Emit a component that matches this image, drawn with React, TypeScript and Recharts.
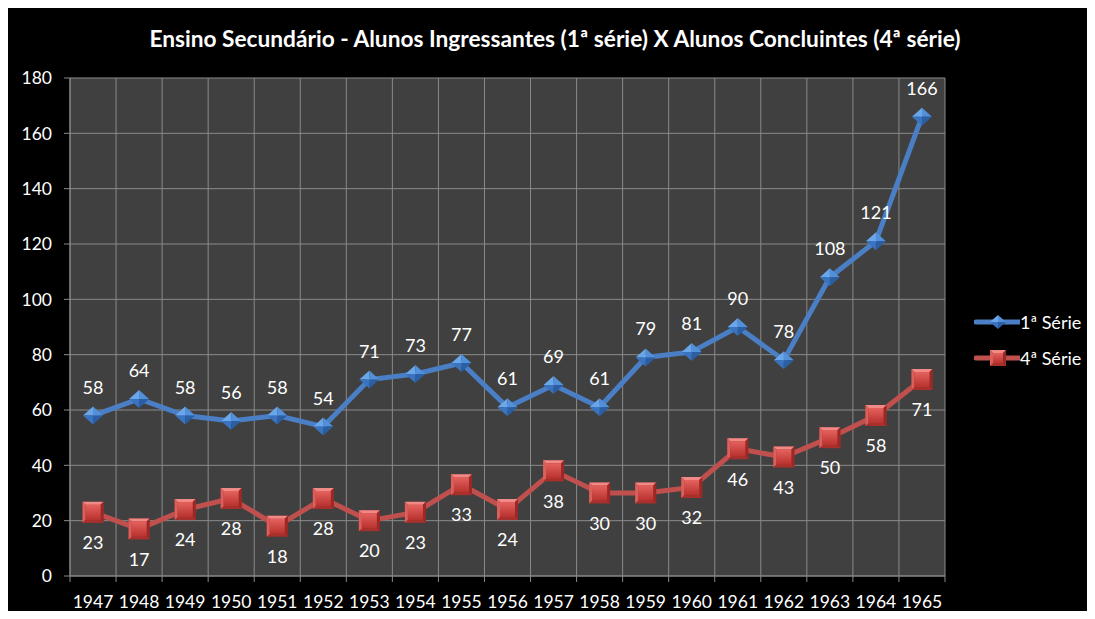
import React from 'react';
import { LineChart, Line, XAxis, YAxis, CartesianGrid, Legend, LabelList } from 'recharts';

const years = ['1947', '1948', '1949', '1950', '1951', '1952', '1953', '1954', '1955', '1956', '1957', '1958', '1959', '1960', '1961', '1962', '1963', '1964', '1965'];
const serie1 = [58, 64, 58, 56, 58, 54, 71, 73, 77, 61, 69, 61, 79, 81, 90, 78, 108, 121, 166];
const serie4 = [23, 17, 24, 28, 18, 28, 20, 23, 33, 24, 38, 30, 30, 32, 46, 43, 50, 58, 71];
const yTicks = [0, 20, 40, 60, 80, 100, 120, 140, 160, 180];
const title = 'Ensino Secundário - Alunos Ingressantes (1ª série) X Alunos Concluintes (4ª série)';
const name1 = '1ª Série';
const name4 = '4ª Série';

const data = years.map((y, i) => ({ year: y, s1: serie1[i], s4: serie4[i] }));

const FONT = 'Lato, "Open Sans", sans-serif';
const FS = 17.5;
const LFS = 18;
const BLUE = '#4A7FC6';
const RED = '#C0504D';
const GRID = '#8a8a8a';

const Diamond = ({ cx, cy, w = 10, h = 9 }: any) => {
  if (cx == null || cy == null) return null;
  return (
    <g>
      <polygon points={`${cx - w},${cy} ${cx},${cy - h} ${cx},${cy}`} fill="#6AA6EA" />
      <polygon points={`${cx},${cy - h} ${cx + w},${cy} ${cx},${cy}`} fill="#5290DA" />
      <polygon points={`${cx - w},${cy} ${cx},${cy + h} ${cx},${cy}`} fill="#3A74C0" />
      <polygon points={`${cx + w},${cy} ${cx},${cy + h} ${cx},${cy}`} fill="#2B5EA3" />
    </g>
  );
};

const Square = ({ cx, cy, s = 10.5 }: any) => {
  if (cx == null || cy == null) return null;
  const i = 3;
  return (
    <g>
      <rect x={cx - s} y={cy - s} width={2 * s} height={2 * s} fill="#A8302C" />
      <polygon points={`${cx - s},${cy - s} ${cx + s},${cy - s} ${cx + s - i},${cy - s + i} ${cx - s + i},${cy - s + i}`} fill="#F08A86" />
      <polygon points={`${cx - s},${cy - s} ${cx - s + i},${cy - s + i} ${cx - s + i},${cy + s - i} ${cx - s},${cy + s}`} fill="#D9605C" />
      <polygon points={`${cx + s},${cy - s} ${cx + s},${cy + s} ${cx + s - i},${cy + s - i} ${cx + s - i},${cy - s + i}`} fill="#9A2825" />
      <rect x={cx - s + i} y={cy - s + i} width={2 * (s - i)} height={2 * (s - i)} fill="url(#sqGrad)" />
    </g>
  );
};

const XTick = (props: any) => {
  const { x, y, payload, index, visibleTicksCount } = props;
  const half = payload && typeof payload.offset === 'number' && payload.offset > 0 ? payload.offset : 23;
  const axisY = y - 20;
  const last = index === (visibleTicksCount ?? years.length) - 1;
  return (
    <g>
      <line x1={x - half} x2={x - half} y1={axisY} y2={axisY + 6} stroke={GRID} />
      {last && <line x1={x + half} x2={x + half} y1={axisY} y2={axisY + 6} stroke={GRID} />}
      <text x={x} y={y} dy="0.71em" textAnchor="middle" fill="#fff" fontSize={FS} fontFamily={FONT}>
        {payload.value}
      </text>
    </g>
  );
};

const renderLegend = () => (
  <div style={{ fontFamily: FONT, color: '#fff', fontSize: LFS, whiteSpace: 'nowrap' }}>
    <div style={{ display: 'flex', alignItems: 'center', height: 36 }}>
      <svg width={46} height={24}>
        <line x1={2} x2={46} y1={12} y2={12} stroke={BLUE} strokeWidth={5} strokeLinecap="round" />
        <Diamond cx={24} cy={12} w={8} h={7} />
      </svg>
      <span>{name1}</span>
    </div>
    <div style={{ display: 'flex', alignItems: 'center', height: 36 }}>
      <svg width={46} height={24}>
        <line x1={2} x2={46} y1={12} y2={12} stroke={RED} strokeWidth={5} strokeLinecap="round" />
        <Square cx={24} cy={12} s={8} />
      </svg>
      <span>{name4}</span>
    </div>
  </div>
);

export default function App() {
  return (
    <div style={{ position: 'relative', width: 1082, height: 611, background: '#000', marginBottom: -8 }}>
      <svg width={0} height={0} style={{ position: 'absolute' }}>
        <defs>
          <linearGradient id="sqGrad" x1="0" y1="0" x2="0" y2="1">
            <stop offset="0%" stopColor="#E5625E" />
            <stop offset="100%" stopColor="#B8322E" />
          </linearGradient>
        </defs>
      </svg>
      <div
        style={{
          position: 'absolute',
          top: 16,
          left: 0,
          width: 1094,
          textAlign: 'center',
          color: '#fff',
          fontFamily: FONT,
          fontWeight: 700,
          fontSize: 22.7,
          lineHeight: '30px',
          whiteSpace: 'nowrap',
        }}
      >
        {title}
      </div>
      <LineChart width={1082} height={611} data={data} margin={{ top: 70, right: 15, bottom: 0, left: 0 }}>
        <CartesianGrid
          stroke={GRID}
          fill="#404040"
          fillOpacity={1}
          verticalCoordinatesGenerator={({ offset }: any) =>
            Array.from({ length: years.length + 1 }, (_, i) => offset.left + (i * offset.width) / years.length)
          }
        />
        <XAxis
          dataKey="year"
          scale="band"
          height={43}
          tickLine={false}
          tickSize={5}
          tickMargin={15}
          axisLine={{ stroke: GRID }}
          tick={<XTick />}
          interval={0}
        />
        <YAxis
          width={62}
          domain={[0, 180]}
          ticks={yTicks}
          interval={0}
          tickSize={6}
          tickMargin={12}
          tickLine={{ stroke: GRID }}
          axisLine={{ stroke: GRID }}
          tick={{ fill: '#fff', fontSize: FS, fontFamily: FONT }}
        />
        <Legend
          layout="vertical"
          align="right"
          verticalAlign="middle"
          width={130}
          content={renderLegend}
          wrapperStyle={{ left: 966, top: 296 }}
        />
        <Line
          dataKey="s1"
          name={name1}
          stroke={BLUE}
          strokeWidth={5}
          dot={(p: any) => <Diamond key={`d${p.index}`} cx={p.cx} cy={p.cy} />}
          activeDot={false}
          isAnimationActive={false}
        >
          <LabelList dataKey="s1" position="top" offset={22} fill="#fff" fontSize={LFS} fontFamily={FONT} />
        </Line>
        <Line
          dataKey="s4"
          name={name4}
          stroke={RED}
          strokeWidth={5}
          dot={(p: any) => <Square key={`s${p.index}`} cx={p.cx} cy={p.cy} />}
          activeDot={false}
          isAnimationActive={false}
        >
          <LabelList dataKey="s4" position="bottom" offset={24} fill="#fff" fontSize={LFS} fontFamily={FONT} />
        </Line>
      </LineChart>
    </div>
  );
}
